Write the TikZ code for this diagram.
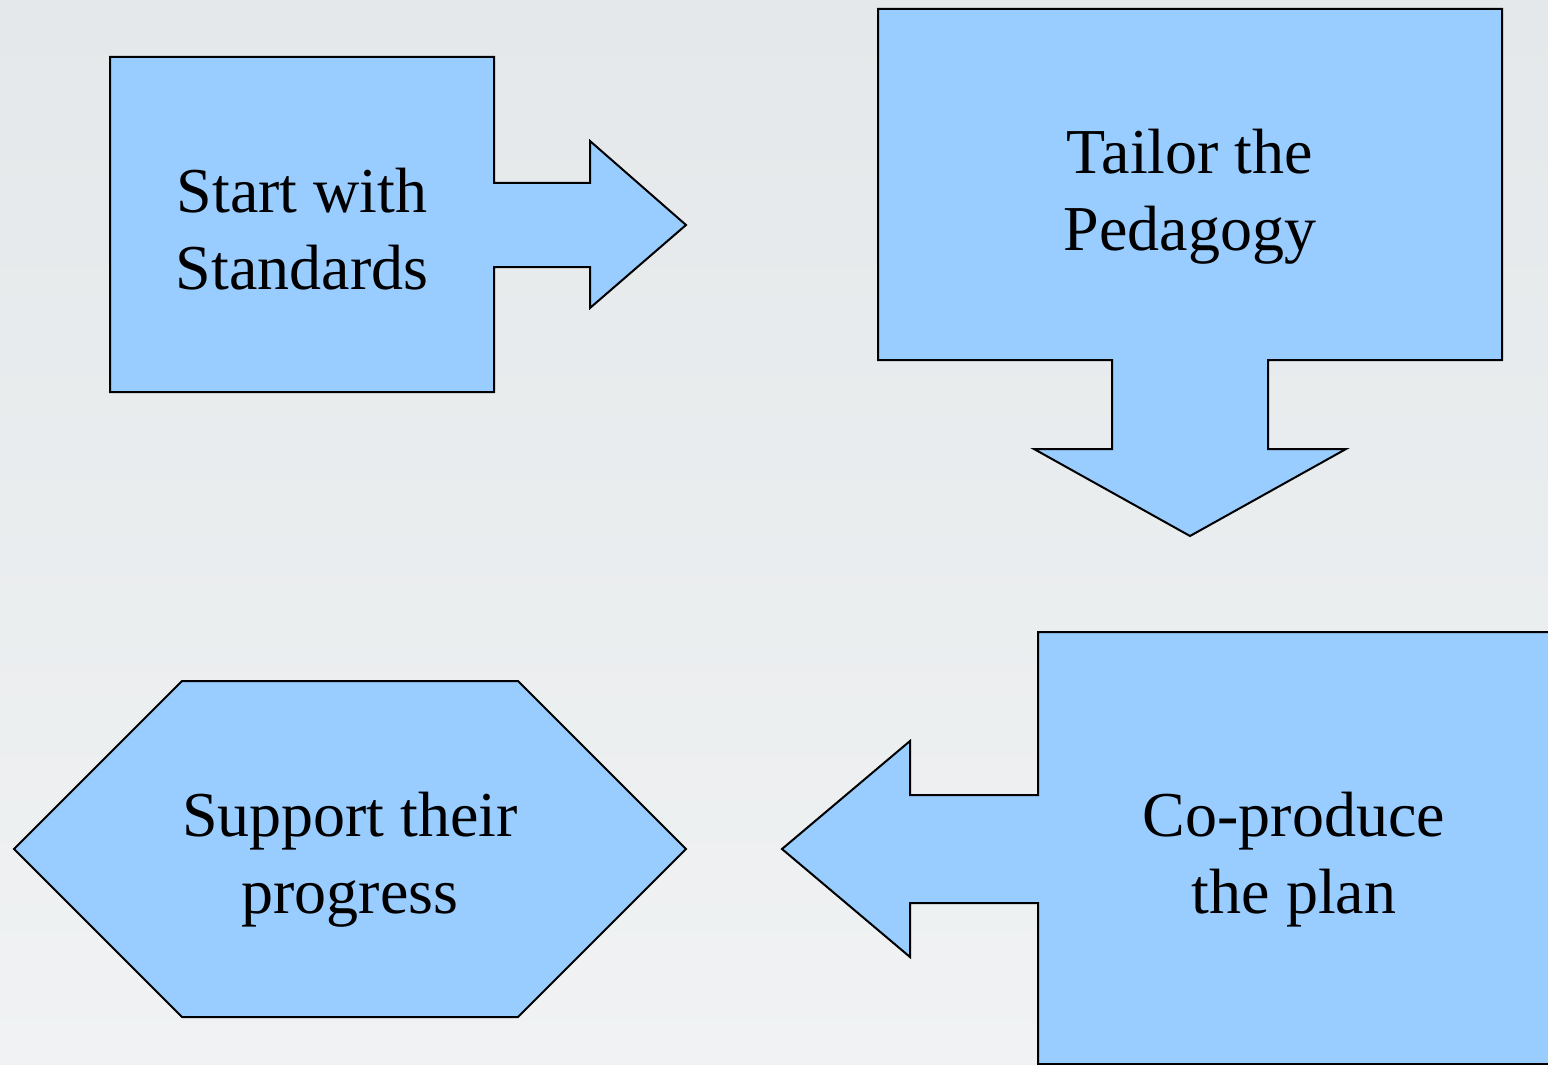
\documentclass[tikz,border=0pt]{standalone}
\usepackage{fontspec}
\setmainfont{Liberation Serif}
\definecolor{shapeblue}{RGB}{153,204,255}
\definecolor{bgtop}{RGB}{228,232,234}
\definecolor{bgbottom}{RGB}{240,242,243}

\tikzset{
	callout/.style={draw=black, line width=1pt, fill=shapeblue, line join=miter},
	label/.style={align=center, font=\fontsize{32}{38.5}\selectfont}
}

\begin{document}
\begin{tikzpicture}[x=0.5pt, y=-0.5pt]

				\useasboundingbox (0,0) rectangle (1548,1065);
				\shade[top color=bgtop, bottom color=bgbottom] (0,0) rectangle (1548,1065);
				\clip (0,0) rectangle (1548,1065);
				
				% right arrow callout
				\draw[callout] (110,57) -- (494,57) -- (494,183) -- (590,183) -- (590,141) -- (686,225)
					-- (590,308) -- (590,267) -- (494,267) -- (494,392) -- (110,392) -- cycle;
				% down arrow callout
				\draw[callout] (878,9) -- (1502,9) -- (1502,360) -- (1268,360) -- (1268,449) -- (1346,449)
					-- (1190,536) -- (1034,449) -- (1112,449) -- (1112,360) -- (878,360) -- cycle;
				% left arrow callout
				\draw[callout] (1038,632) -- (1560,632) -- (1560,1064) -- (1038,1064) -- (1038,903) -- (910,903)
					-- (910,957) -- (782,849) -- (910,741) -- (910,795) -- (1038,795) -- cycle;
				% hexagon
				\draw[callout] (14,849) -- (182,681) -- (518,681) -- (686,849) -- (518,1017) -- (182,1017) -- cycle;
				
				\node[label] (standards) at (302,229) {Start with\\Standards};
				\node[label] (pedagogy) at (1190,197) {Tailor the\\Pedagogy};
				\node[label] (plan) at (1294,860) {Co-produce\\the plan};
				\node[label] (progress) at (350,860) {Support their\\progress};
				
			\end{tikzpicture}
\end{document}
